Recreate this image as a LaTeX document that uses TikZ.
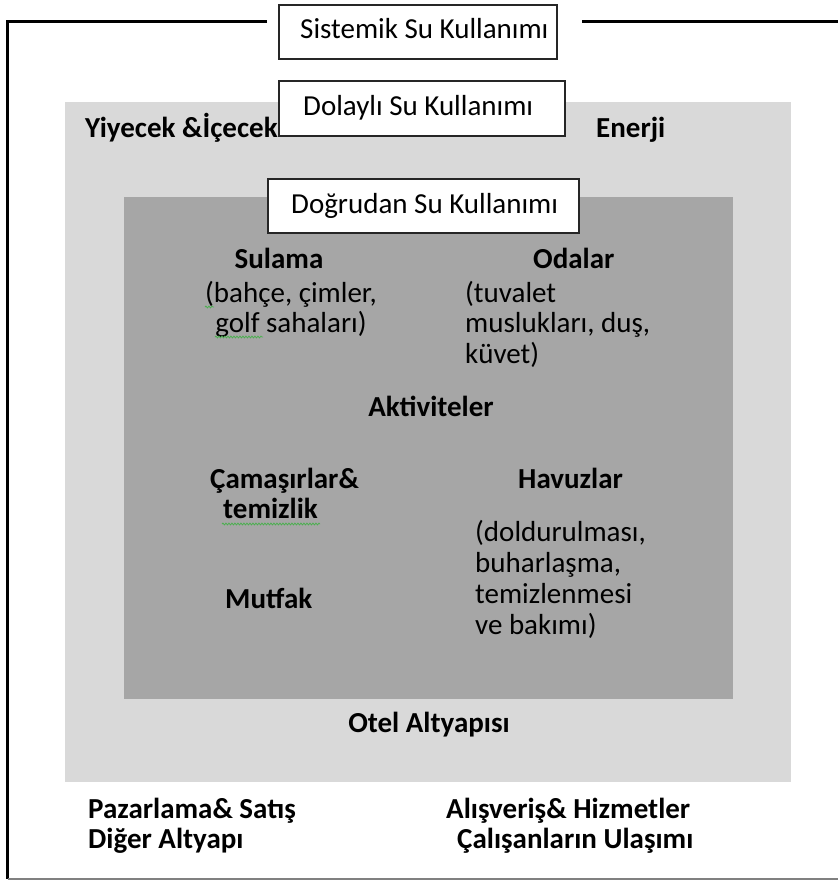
\documentclass[tikz,border=0pt]{standalone}
\usepackage{fontspec}
\setmainfont{Carlito}
\usetikzlibrary{decorations.pathmorphing}
\definecolor{lightg}{HTML}{D9D9D9}
\definecolor{darkg}{HTML}{A6A6A6}
\definecolor{squig}{HTML}{4CAF50}
\tikzset{
  lbl/.style={inner sep=0pt, anchor=base west, font=\fontsize{29}{33}\selectfont},
  blbl/.style={lbl, font=\fontsize{29}{33}\selectfont\bfseries},
  tbox/.style={draw=black!85, line width=1.4pt, fill=white},
  frame/.style={line width=3pt, black},
  spell/.style={squig, line width=0.8pt, decorate, decoration={snake, amplitude=0.9pt, segment length=3pt}}
}
\begin{document}
\begin{tikzpicture}[x=1pt,y=-1pt]
\useasboundingbox (0,0) rectangle (838,881);
% outer frame
\coordinate (fl1) at (7.5,21);
\coordinate (fl2) at (267,21);
\coordinate (fr1) at (582,21);
\coordinate (fr2) at (840,21);
\coordinate (fb1) at (7.5,879);
\coordinate (fb2) at (840,879);
\draw[frame] (fl2) -- (fl1) -- (fb1);
\draw[frame] (fr1) -- (fr2);
\draw[gray, line width=1.5pt] (fb1) -- (fb2);
% zones
\fill[lightg] (65,102) rectangle (791,782);
\fill[darkg] (124,197) rectangle (733,699);
% indirect layer labels
\node[blbl] (yiy) at (85,137) {Yiyecek \&İçecek};
\node[blbl] (ener) at (596,137) {Enerji};
% title boxes
\draw[tbox] (279,5) rectangle (557,59);
\node[lbl] (sys) at (300,38) {Sistemik Su Kullanımı};
\draw[tbox] (279,81) rectangle (565,136);
\node[lbl] (dol) at (303,115) {Dolaylı Su Kullanımı};
\draw[tbox] (268,179) rectangle (579,233);
\node[lbl] (dog) at (291,213) {Doğrudan Su Kullanımı};
% direct use
\node[blbl, anchor=base] (sul) at (279,268) {Sulama};
\node[lbl, anchor=base] (sul1) at (291,302) {(bahçe, çimler,};
\node[lbl, anchor=base] (sul2) at (291,332) {golf sahaları)};
\node[blbl] (oda) at (533,268) {Odalar};
\node[lbl] (oda1) at (465,302) {(tuvalet};
\node[lbl] (oda2) at (465,332) {muslukları, duş,};
\node[lbl] (oda3) at (465,363) {küvet)};
\node[blbl, anchor=base] (akt) at (431,416) {Aktiviteler};
\node[blbl] (cam) at (210,488) {Çamaşırlar\&};
\node[blbl] (cam2) at (223,518) {temizlik};
\node[blbl] (hav) at (518,488) {Havuzlar};
\node[lbl] (hav1) at (475,541) {(doldurulması,};
\node[lbl] (hav2) at (475,572) {buharlaşma,};
\node[lbl] (hav3) at (475,603) {temizlenmesi};
\node[lbl] (hav4) at (475,634) {ve bakımı)};
\node[blbl] (mut) at (225,608) {Mutfak};
\node[blbl, anchor=base] (otel) at (429,732) {Otel Altyapısı};
% systemic
\node[blbl] (paz) at (88,818) {Pazarlama\& Satış};
\node[blbl] (dig) at (88,848) {Diğer Altyapı};
\node[blbl] (alis) at (446,818) {Alışveriş\& Hizmetler};
\node[blbl] (cal) at (457,848) {Çalışanların Ulaşımı};
% spell-check squiggles
\draw[spell] (205,307) -- (214,307);
\draw[spell] (215,337) -- (263,337);
\draw[spell] (222,524) -- (320,524);
\end{tikzpicture}
\end{document}
